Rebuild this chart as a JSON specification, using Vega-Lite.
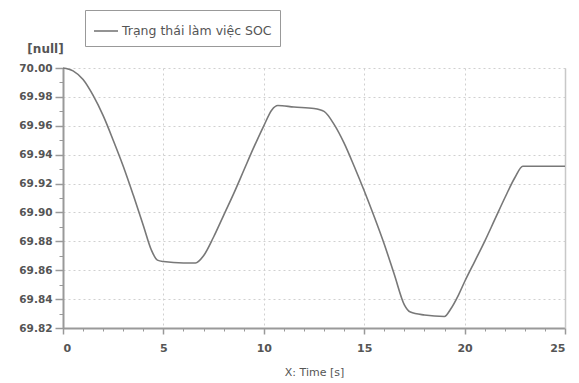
{
  "$schema": "https://vega.github.io/schema/vega-lite/v6.json",
  "width": 502,
  "height": 260,
  "autosize": {"type": "none"},
  "padding": {"left": 63, "top": 68, "right": 14, "bottom": 55},
  "background": "white",
  "config": {
    "view": {"stroke": null},
    "font": "DejaVu Sans"
  },
  "data": {
    "values": [
      {"t": 0.0, "soc": 70.000, "series": "Trạng thái làm việc SOC"},
      {"t": 0.5, "soc": 69.998, "series": "Trạng thái làm việc SOC"},
      {"t": 1.0, "soc": 69.992, "series": "Trạng thái làm việc SOC"},
      {"t": 1.5, "soc": 69.981, "series": "Trạng thái làm việc SOC"},
      {"t": 2.0, "soc": 69.967, "series": "Trạng thái làm việc SOC"},
      {"t": 2.5, "soc": 69.950, "series": "Trạng thái làm việc SOC"},
      {"t": 3.0, "soc": 69.932, "series": "Trạng thái làm việc SOC"},
      {"t": 3.5, "soc": 69.912, "series": "Trạng thái làm việc SOC"},
      {"t": 4.0, "soc": 69.891, "series": "Trạng thái làm việc SOC"},
      {"t": 4.4, "soc": 69.874, "series": "Trạng thái làm việc SOC"},
      {"t": 4.7, "soc": 69.867, "series": "Trạng thái làm việc SOC"},
      {"t": 5.0, "soc": 69.866, "series": "Trạng thái làm việc SOC"},
      {"t": 6.0, "soc": 69.865, "series": "Trạng thái làm việc SOC"},
      {"t": 6.6, "soc": 69.865, "series": "Trạng thái làm việc SOC"},
      {"t": 7.0, "soc": 69.870, "series": "Trạng thái làm việc SOC"},
      {"t": 7.5, "soc": 69.883, "series": "Trạng thái làm việc SOC"},
      {"t": 8.0, "soc": 69.898, "series": "Trạng thái làm việc SOC"},
      {"t": 8.5, "soc": 69.913, "series": "Trạng thái làm việc SOC"},
      {"t": 9.0, "soc": 69.929, "series": "Trạng thái làm việc SOC"},
      {"t": 9.5, "soc": 69.945, "series": "Trạng thái làm việc SOC"},
      {"t": 10.0, "soc": 69.960, "series": "Trạng thái làm việc SOC"},
      {"t": 10.4, "soc": 69.971, "series": "Trạng thái làm việc SOC"},
      {"t": 10.7, "soc": 69.974, "series": "Trạng thái làm việc SOC"},
      {"t": 11.5, "soc": 69.973, "series": "Trạng thái làm việc SOC"},
      {"t": 12.5, "soc": 69.972, "series": "Trạng thái làm việc SOC"},
      {"t": 13.0, "soc": 69.970, "series": "Trạng thái làm việc SOC"},
      {"t": 13.5, "soc": 69.961, "series": "Trạng thái làm việc SOC"},
      {"t": 14.0, "soc": 69.948, "series": "Trạng thái làm việc SOC"},
      {"t": 14.5, "soc": 69.932, "series": "Trạng thái làm việc SOC"},
      {"t": 15.0, "soc": 69.915, "series": "Trạng thái làm việc SOC"},
      {"t": 15.5, "soc": 69.897, "series": "Trạng thái làm việc SOC"},
      {"t": 16.0, "soc": 69.878, "series": "Trạng thái làm việc SOC"},
      {"t": 16.5, "soc": 69.857, "series": "Trạng thái làm việc SOC"},
      {"t": 17.0, "soc": 69.836, "series": "Trạng thái làm việc SOC"},
      {"t": 17.3, "soc": 69.831, "series": "Trạng thái làm việc SOC"},
      {"t": 18.0, "soc": 69.829, "series": "Trạng thái làm việc SOC"},
      {"t": 19.0, "soc": 69.828, "series": "Trạng thái làm việc SOC"},
      {"t": 19.3, "soc": 69.833, "series": "Trạng thái làm việc SOC"},
      {"t": 19.7, "soc": 69.843, "series": "Trạng thái làm việc SOC"},
      {"t": 20.0, "soc": 69.852, "series": "Trạng thái làm việc SOC"},
      {"t": 20.5, "soc": 69.866, "series": "Trạng thái làm việc SOC"},
      {"t": 21.0, "soc": 69.880, "series": "Trạng thái làm việc SOC"},
      {"t": 21.5, "soc": 69.895, "series": "Trạng thái làm việc SOC"},
      {"t": 22.0, "soc": 69.910, "series": "Trạng thái làm việc SOC"},
      {"t": 22.5, "soc": 69.924, "series": "Trạng thái làm việc SOC"},
      {"t": 22.9, "soc": 69.932, "series": "Trạng thái làm việc SOC"},
      {"t": 23.5, "soc": 69.932, "series": "Trạng thái làm việc SOC"},
      {"t": 25.0, "soc": 69.932, "series": "Trạng thái làm việc SOC"}
    ]
  },
  "resolve": {"axis": {"x": "independent", "y": "independent"}},
  "layer": [
    {
      "mark": {"type": "line", "opacity": 0},
      "encoding": {
        "x": {"field": "t", "type": "quantitative", "scale": {"domain": [0, 25], "nice": false, "zero": false},
          "axis": {"orient": "bottom", "values": [0,1,2,3,4,5,6,7,8,9,10,11,12,13,14,15,16,17,18,19,20,21,22,23,24,25], "labels": false, "grid": false, "domain": false, "ticks": true, "tickSize": 3, "tickColor": "#999", "title": null}},
        "y": {"field": "soc", "type": "quantitative", "scale": {"domain": [69.82, 70.0], "nice": false, "zero": false},
          "axis": {"orient": "left", "values": [69.82,69.83,69.84,69.85,69.86,69.87,69.88,69.89,69.90,69.91,69.92,69.93,69.94,69.95,69.96,69.97,69.98,69.99,70.0], "labels": false, "grid": false, "domain": false, "ticks": true, "tickSize": 4, "tickColor": "#999", "title": null}}
      }
    },
    {
      "mark": {"type": "line", "opacity": 0},
      "encoding": {
        "x": {"field": "t", "type": "quantitative", "axis": null},
        "y": {"field": "soc", "type": "quantitative",
          "axis": {"orient": "right", "labels": false, "grid": false, "ticks": false, "domain": true, "domainColor": "#c8c8c8", "domainWidth": 1.5, "title": null}}
      }
    },
    {
      "mark": {"type": "line", "strokeWidth": 1.6, "interpolate": "monotone"},
      "encoding": {
        "x": {"field": "t", "type": "quantitative",
          "axis": {"orient": "bottom", "values": [0, 5, 10, 15, 20, 25], "format": "d", "grid": true, "gridColor": "#d0d0d0", "gridDash": [2, 3], "gridWidth": 1, "domainColor": "#999", "domainWidth": 2, "tickColor": "#999", "tickWidth": 1.5, "tickSize": 6, "labelFont": "DejaVu Sans", "labelFontSize": 11, "labelFontWeight": "bold", "labelColor": "#555", "labelPadding": 8, "title": "X: Time [s]", "titleFont": "DejaVu Sans", "titleFontSize": 11, "titleFontWeight": "normal", "titleColor": "#555", "titleY": 44, "titleBaseline": "middle"}},
        "y": {"field": "soc", "type": "quantitative",
          "axis": {"orient": "left", "values": [69.82, 69.84, 69.86, 69.88, 69.9, 69.92, 69.94, 69.96, 69.98, 70.0], "format": ".2f", "grid": true, "gridColor": "#d0d0d0", "gridDash": [2, 3], "gridWidth": 1, "domainColor": "#999", "domainWidth": 2, "tickColor": "#999", "tickWidth": 1.5, "tickSize": 8, "labelFont": "DejaVu Sans", "labelFontSize": 10.5, "labelFontWeight": "bold", "labelColor": "#555", "labelPadding": 3, "title": "[null]", "titleFont": "DejaVu Sans", "titleFontSize": 12, "titleFontWeight": "bold", "titleColor": "#555", "titleAngle": 0, "titleX": -18, "titleY": -20, "titleAlign": "center", "titleBaseline": "middle"}},
        "color": {"field": "series", "type": "nominal", "scale": {"range": ["#787878"]},
          "legend": {"orient": "none", "legendX": 22, "legendY": -58, "title": null, "strokeColor": "#999", "padding": 8, "symbolType": "stroke", "symbolSize": 576, "symbolStrokeWidth": 1.6, "labelFont": "DejaVu Sans", "labelFontSize": 12.5, "labelLimit": 400, "labelColor": "#555", "labelOffset": 3}}
      }
    }
  ]
}
